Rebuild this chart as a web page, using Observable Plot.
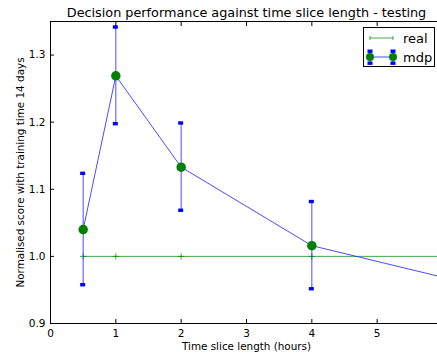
<!DOCTYPE html>
<html>
<head>
<meta charset="utf-8">
<script src="https://cdn.jsdelivr.net/npm/d3@7"></script>
<script src="https://cdn.jsdelivr.net/npm/@observablehq/plot@0.6"></script>
<style>
  html, body { margin: 0; padding: 0; background: #fff; }
  #wrap { position: relative; width: 437px; height: 356px; overflow: hidden; font-family: "DejaVu Sans", sans-serif; }
  #legend { position: absolute; left: 363px; top: 27px; width: 72px; height: 40px; border: 1px solid #000; background: #fff; box-sizing: border-box; }
</style>
</head>
<body>
<div id="wrap"><div id="legend"></div></div>
<script>
// ---- data ----
const hours = [0.5, 1, 2, 4, 6];
const mdpMean = [1.040, 1.269, 1.133, 1.016, 0.969];
const mdpErr = [0.083, 0.072, 0.065, 0.065, 0.060];
const realMean = [1.0, 1.0, 1.0, 1.0, 1.0];
const xTicks = [0, 1, 2, 3, 4, 5];
const yTicks = [0.9, 1.0, 1.1, 1.2, 1.3];
const xDomain = [0, 6];
const yDomain = [0.9, 1.35];
const title = "Decision performance against time slice length - testing";
const xLabel = "Time slice length (hours)";
const yLabel = "Normalised score with training time 14 days";
const seriesNames = ["real", "mdp"];

const mdp = hours.map((h, i) => ({x: h, y: mdpMean[i], lo: mdpMean[i] - mdpErr[i], hi: mdpMean[i] + mdpErr[i]}));
const real = hours.map((h, i) => ({x: h, y: realMean[i]}));
const caps = mdp.flatMap(d => [{x: d.x, y: d.lo}, {x: d.x, y: d.hi}]);

const BLUE = "#2b2bff", GREEN = "#008000";
const fmt = d3.format(".1f");

const chart = Plot.plot({
  width: 437,
  height: 356,
  marginLeft: 50,
  marginRight: -5,
  marginTop: 21,
  marginBottom: 33,
  style: {fontFamily: "DejaVu Sans, sans-serif", fontSize: "10.5px", color: "#000", background: "#fff", overflow: "visible"},
  x: {domain: xDomain, axis: null},
  y: {domain: yDomain, axis: null},
  marks: [
    // real series
    Plot.line(real, {x: "x", y: "y", stroke: GREEN, strokeOpacity: 0.7, strokeWidth: 1, clip: true}),
    Plot.dot(real, {x: "x", y: "y", symbol: "plus", r: 2.2, stroke: GREEN, strokeOpacity: 0.7, strokeWidth: 1, clip: true}),
    // mdp series
    Plot.ruleX(mdp, {x: "x", y1: "lo", y2: "hi", stroke: BLUE, strokeOpacity: 0.85, strokeWidth: 1, clip: true}),
    Plot.rect(caps, {x1: "x", x2: "x", y1: "y", y2: "y", insetLeft: -2.5, insetRight: -2.5, insetTop: -1.7, insetBottom: -1.7, fill: "#0000ff", clip: true}),
    Plot.line(mdp, {x: "x", y: "y", stroke: BLUE, strokeOpacity: 0.85, strokeWidth: 1, clip: true}),
    Plot.dot(mdp, {x: "x", y: "y", r: 4, fill: GREEN, stroke: GREEN, clip: true}),
    // spines
    Plot.ruleX([xDomain[0]], {stroke: "#000", strokeWidth: 1}),
    Plot.ruleY(yDomain, {stroke: "#000", strokeWidth: 1}),
    // axes (inward ticks)
    Plot.axisX({anchor: "bottom", ticks: xTicks, tickSize: -4, tickPadding: 10, tickFormat: d => String(d), label: null, fontSize: 10.5}),
    Plot.axisX({anchor: "top", ticks: xTicks, tickSize: -4, tickFormat: () => "", label: null}),
    Plot.axisY({anchor: "left", ticks: yTicks, tickSize: -4, tickPadding: 9, tickFormat: fmt, label: null, fontSize: 10.5}),
    // texts
    Plot.text([title], {frameAnchor: "top", lineAnchor: "middle", textAnchor: "middle", dy: -9, fontSize: 12.8, fill: "#000"}),
    Plot.text([xLabel], {frameAnchor: "bottom", lineAnchor: "middle", textAnchor: "middle", dy: 23, fontSize: 10.4, fill: "#000"}),
    Plot.text([yLabel], {frameAnchor: "left", lineAnchor: "middle", textAnchor: "middle", dx: -30, rotate: -90, fontSize: 10.4, fill: "#000"})
  ]
});
document.getElementById("wrap").prepend(chart);

// legend
const leg = d3.select("#legend").append("svg").attr("width", 70).attr("height", 38)
  .style("font-family", "DejaVu Sans, sans-serif");
const rowY = [10, 29];
const lx1 = 6, lx2 = 29;
// real
leg.append("line").attr("x1", lx1).attr("x2", lx2).attr("y1", rowY[0]).attr("y2", rowY[0]).attr("stroke", GREEN).attr("stroke-opacity", 0.7);
[lx1, lx2].forEach(x => {
  leg.append("line").attr("x1", x).attr("x2", x).attr("y1", rowY[0] - 2).attr("y2", rowY[0] + 2).attr("stroke", GREEN).attr("stroke-opacity", 0.7);
});
// mdp
leg.append("line").attr("x1", lx1).attr("x2", lx2).attr("y1", rowY[1]).attr("y2", rowY[1]).attr("stroke", BLUE).attr("stroke-opacity", 0.85);
[lx1, lx2].forEach(x => {
  leg.append("line").attr("x1", x).attr("x2", x).attr("y1", rowY[1] - 6).attr("y2", rowY[1] + 6).attr("stroke", BLUE);
  leg.append("rect").attr("x", x - 2.5).attr("y", rowY[1] - 7.5).attr("width", 5).attr("height", 3.4).attr("fill", "#0000ff");
  leg.append("rect").attr("x", x - 2.5).attr("y", rowY[1] + 4.5).attr("width", 5).attr("height", 3.4).attr("fill", "#0000ff");
  leg.append("circle").attr("cx", x).attr("cy", rowY[1]).attr("r", 4).attr("fill", GREEN);
});
seriesNames.forEach((n, i) => {
  leg.append("text").attr("x", 39).attr("y", rowY[i]).attr("dy", "0.35em").attr("font-size", 13).text(n);
});
</script>
</body>
</html>
